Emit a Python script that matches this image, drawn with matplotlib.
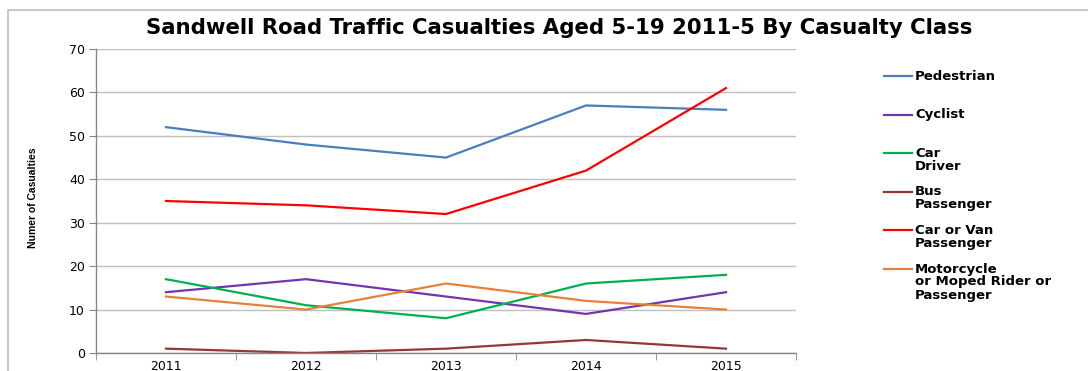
import matplotlib
matplotlib.use("Agg")
import matplotlib.pyplot as plt
from matplotlib.lines import Line2D
from matplotlib.patches import Rectangle

years = ["2011", "2012", "2013", "2014", "2015"]
pedestrian = [52, 48, 45, 57, 56]
cyclist = [14, 17, 13, 9, 14]
car_driver = [17, 11, 8, 16, 18]
bus_passenger = [1, 0, 1, 3, 1]
car_van_passenger = [35, 34, 32, 42, 61]
motorcycle = [13, 10, 16, 12, 10]

series_labels = ["Pedestrian", "Cyclist", "Car\nDriver", "Bus\nPassenger",
                 "Car or Van\nPassenger", "Motorcycle\nor Moped Rider or\nPassenger"]
series_values = [pedestrian, cyclist, car_driver, bus_passenger, car_van_passenger, motorcycle]
series_colors = ["#4A7EBB", "#7434AB", "#00B050", "#953735", "#FF0000", "#E8803A"]

W, H = 1088, 371
fig = plt.figure(figsize=(W / 100, H / 100), dpi=100)
plt.rcParams['font.family'] = ['DejaVu Sans']

# outer chart frame
fig.add_artist(Rectangle((8 / W, -0.05), 1.1, (H - 10) / H + 0.05, transform=fig.transFigure,
                         fill=False, edgecolor="#BFBFBF", linewidth=1.2))

ax = fig.add_axes([96 / W, 18 / H, 700 / W, 304 / H])
x = list(range(len(years)))
for vals, col in zip(series_values, series_colors):
    ax.plot(x, vals, color=col, linewidth=1.6, solid_joinstyle="miter")

ax.set_xlim(-0.5, len(years) - 0.5)
ax.set_ylim(0, 70)
ax.set_yticks(range(0, 71, 10))
ax.set_xticks(x)
ax.set_xticklabels(years)
ax.set_xticks([i - 0.5 for i in range(len(years) + 1)], minor=True)
ax.tick_params(axis="x", which="major", length=0, pad=5, labelsize=9)
ax.tick_params(axis="x", which="minor", length=5, color="#868686", direction="out")
ax.tick_params(axis="y", length=5, color="#868686", direction="out", pad=3, labelsize=9)
ax.yaxis.grid(True, color="#BFBFBF", linewidth=1)
ax.set_axisbelow(True)
for s in ["top", "right"]:
    ax.spines[s].set_visible(False)
for s in ["left", "bottom"]:
    ax.spines[s].set_color("#868686")
    ax.spines[s].set_linewidth(1)

fig.text(33 / W, 1 - 198 / H, "Numer of Casualties", rotation=90, ha="center", va="center",
         fontsize=7.5, fontweight="bold", family=["Liberation Sans Narrow", "Liberation Sans"])

fig.text(559 / W, 1 - 28 / H, "Sandwell Road Traffic Casualties Aged 5-19 2011-5 By Casualty Class",
         ha="center", va="center", fontsize=15.3, fontweight="bold")

# legend
for i, (lab, col) in enumerate(zip(series_labels, series_colors)):
    ypix = 76 + 38.6 * i
    yf = 1 - ypix / H
    fig.add_artist(Line2D([884 / W, 912 / W], [yf, yf], transform=fig.transFigure,
                          color=col, linewidth=1.6))
    fig.text(915 / W, yf + 6.5 / H, lab, ha="left", va="top", fontsize=9.5, fontweight="bold",
             linespacing=1.0)

fig.savefig("out.png", dpi=100)
